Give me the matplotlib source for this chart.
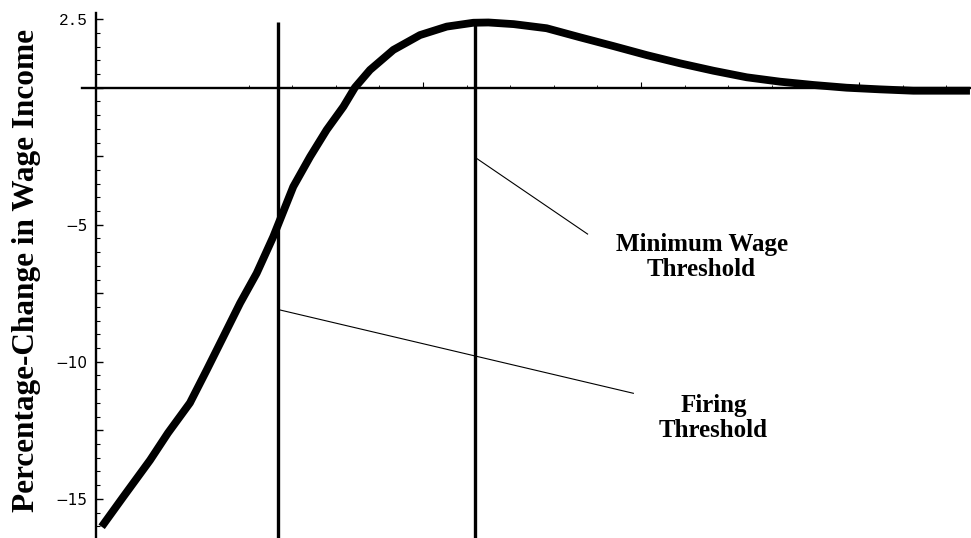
import numpy as np
import matplotlib
matplotlib.use("Agg")
import matplotlib.pyplot as plt

# wage-income curve
x_pts = [0.526, 0.624, 0.748, 0.830, 0.931, 1.008, 1.084, 1.161, 1.237, 1.313,
         1.405, 1.482, 1.558, 1.635, 1.688, 1.757, 1.864, 1.986, 2.109, 2.231,
         2.300, 2.416, 2.567, 2.720, 2.873, 3.026, 3.179, 3.332, 3.485, 3.638,
         3.790, 3.943, 4.096, 4.249, 4.509]
y_pts = [-16.02, -14.94, -13.59, -12.60, -11.50, -10.30, -9.09, -7.86, -6.77, -5.44,
         -3.61, -2.52, -1.54, -0.69, 0.01, 0.65, 1.38, 1.92, 2.23, 2.37,
         2.38, 2.32, 2.17, 1.84, 1.52, 1.19, 0.89, 0.62, 0.38, 0.22,
         0.10, 0.00, -0.06, -0.11, -0.11]

# thresholds (vertical lines)
thresholds = [1.335, 2.239]
threshold_top = 2.4

# y ticks
ytick_major = [2.5, 0, -2.5, -5, -7.5, -10, -12.5, -15]
ytick_text = ["2.5", "", "", "\u22125", "", "\u221210", "", "\u221215"]
ytick_minor = list(np.arange(-16, 2.6, 0.5))
xtick_major = [2, 3, 4]
xtick_minor = list(np.arange(1.2, 4.45, 0.2))

ylabel = "Percentage-Change in Wage Income"
labels = ["Minimum Wage\nThreshold", "Firing\nThreshold"]
label_pos = [(3.278, -6.18), (3.332, -12.04)]
leader_lines = [((2.246, 2.755), (-2.58, -5.34)),
                ((1.344, 2.965), (-8.11, -11.15))]

fig = plt.figure(figsize=(9.71, 5.38), dpi=100)
ax = fig.add_axes([82 / 971, 0, 889 / 971, 525 / 538])
ax.set_xlim(0.4358, 4.5138)
ax.set_ylim(-16.43, 2.726)

ax.plot(x_pts, y_pts, color="black", lw=5.6, solid_capstyle="butt", zorder=3)
ax.vlines(thresholds, -16.43, threshold_top, color="black", lw=2.4, zorder=4)
for xs, ys in leader_lines:
    ax.plot(xs, ys, color="black", lw=0.8)
for txt, (tx, ty) in zip(labels, label_pos):
    ax.text(tx, ty, txt, ha="center", va="center", fontsize=18,
            fontweight="bold", family="Liberation Serif", linespacing=1.1)

# mathematica-style axes crossing in the plot
for s in ["top", "right"]:
    ax.spines[s].set_visible(False)
ax.spines["left"].set_position(("data", 0.5))
ax.spines["bottom"].set_position(("data", 0))
ax.spines["left"].set_linewidth(1.7)
ax.spines["bottom"].set_linewidth(1.7)

ax.set_yticks(ytick_major)
ax.set_yticklabels(ytick_text)
ax.set_yticks(ytick_minor, minor=True)
ax.set_xticks(xtick_major)
ax.set_xticks(xtick_minor, minor=True)
ax.set_xticklabels([])
ax.tick_params(axis="y", which="major", direction="in", length=5, width=1,
               labelsize=11, pad=6)
ax.tick_params(axis="y", which="minor", direction="in", length=3, width=0.8)
ax.tick_params(axis="x", which="major", direction="in", length=4, width=0.8)
ax.tick_params(axis="x", which="minor", direction="in", length=2, width=0.6)
for t in ax.get_yticklabels():
    if t.get_text() == "2.5":
        t.set_family("Liberation Mono")
        t.set_fontsize(11.5)

fig.text(27 / 971, 1 - 270 / 538, ylabel, rotation=90, ha="center", va="center",
         fontsize=22.5, fontweight="bold", family="Liberation Serif")

fig.savefig("out.png", dpi=100)
